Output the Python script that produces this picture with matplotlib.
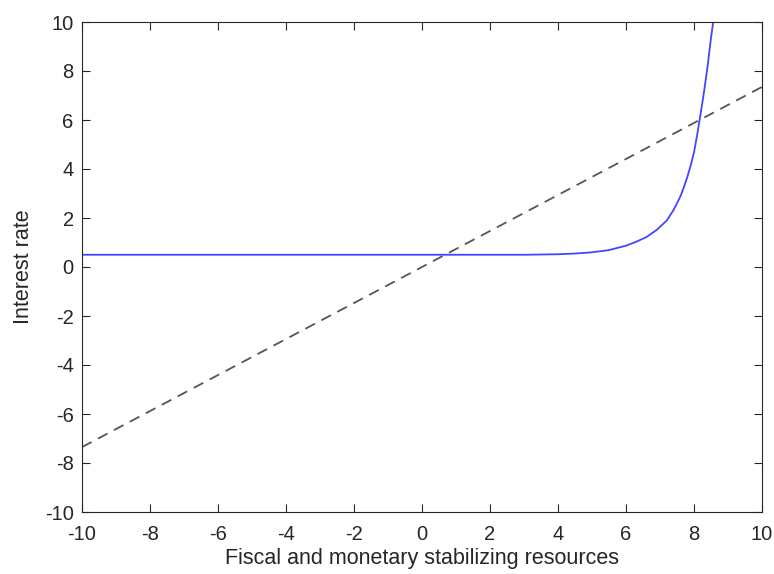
import matplotlib
matplotlib.use("Agg")
import matplotlib.pyplot as plt

# blue curve
curve_x = [-10, 3.0, 4.0, 4.5, 5.0, 5.5, 6.0, 6.3, 6.6, 6.9, 7.2, 7.4, 7.6,
           7.7, 7.8, 7.9, 8.0, 8.1, 8.2, 8.3, 8.4, 8.5, 8.55, 8.6, 8.65]
curve_y = [0.5, 0.5, 0.52, 0.55, 0.6, 0.69, 0.87, 1.03, 1.22, 1.51, 1.9, 2.33, 2.88,
           3.25, 3.66, 4.13, 4.68, 5.45, 6.3, 7.2, 8.2, 9.35, 9.85, 10.3, 10.8]

# dashed straight line
line_x = [-10, 10]
line_y = [-7.35, 7.35]

ticks = [-10, -8, -6, -4, -2, 0, 2, 4, 6, 8, 10]

plt.rcParams["font.family"] = ["Liberation Sans", "DejaVu Sans"]
plt.rcParams["axes.unicode_minus"] = False

fig = plt.figure(figsize=(7.74, 5.74), dpi=100)
ax = fig.add_axes([82 / 774, 62 / 574, 680 / 774, 490 / 574])

ax.plot(line_x, line_y, "--", color="#555555", linewidth=1.3, dashes=(6, 4))
ax.plot(curve_x, curve_y, "-", color="#4545ff", linewidth=1.3)

ax.set_xlim(-10, 10)
ax.set_ylim(-10, 10)
ax.set_xticks(ticks)
ax.set_yticks(ticks)
ax.tick_params(direction="in", length=6, width=0.8, top=True, right=True,
               labelsize=14.5, colors="#262626", pad=6)
ax.tick_params(axis="x", pad=9)
for s in ax.spines.values():
    s.set_color("#262626")
    s.set_linewidth(0.8)

ax.set_xlabel("Fiscal and monetary stabilizing resources", fontsize=15.5,
              color="#262626", labelpad=3)
ax.set_ylabel("Interest rate", fontsize=15.5, color="#262626", labelpad=8)

fig.savefig("out.png", dpi=100)
